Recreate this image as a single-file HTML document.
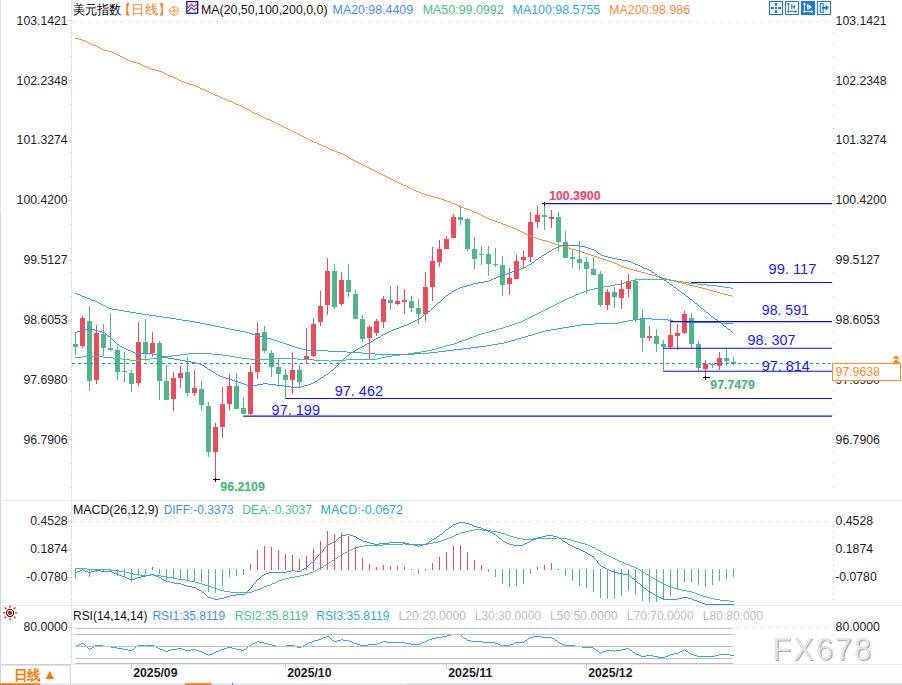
<!DOCTYPE html>
<html><head><meta charset="utf-8"><title>chart</title><style>html,body{margin:0;padding:0;background:#fff;overflow:hidden}svg text{font-family:"Liberation Sans",sans-serif}</style></head><body><svg width="902" height="685" viewBox="0 0 902 685" style="display:block"><rect width="902" height="685" fill="#fff"/><rect x="0" y="0" width="1" height="213" fill="#dde2ec"/><rect x="0" y="213" width="1" height="472" fill="#cbd3e0"/><rect x="0" y="500.0" width="902" height="1" fill="#e3eaf2"/><rect x="0" y="605.0" width="902" height="1" fill="#e3eaf2"/><rect x="0" y="664" width="902" height="1" fill="#e3eaf2"/><rect x="71" y="0" width="1" height="664" fill="#dfe7ef"/><line x1="72" y1="21.5" x2="832" y2="21.5" stroke="#e8edf3" stroke-width="1" stroke-dasharray="4 4"/><line x1="72" y1="521.5" x2="832" y2="521.5" stroke="#e8edf3" stroke-width="1" stroke-dasharray="4 4"/><line x1="72" y1="627.5" x2="832" y2="627.5" stroke="#e8edf3" stroke-width="1" stroke-dasharray="4 4"/><rect x="68.0" y="20" width="3.5" height="1" fill="#b9c2d0" opacity="0.8"/><rect x="70.0" y="32" width="1.5" height="1" fill="#b9c2d0" opacity="0.55"/><rect x="833" y="32" width="1" height="1" fill="#b9c2d0" opacity="0.9"/><rect x="70.0" y="44" width="1.5" height="1" fill="#b9c2d0" opacity="0.55"/><rect x="833" y="44" width="1" height="1" fill="#b9c2d0" opacity="0.9"/><rect x="70.0" y="56" width="1.5" height="1" fill="#b9c2d0" opacity="0.55"/><rect x="833" y="56" width="1" height="1" fill="#b9c2d0" opacity="0.9"/><rect x="70.0" y="68" width="1.5" height="1" fill="#b9c2d0" opacity="0.55"/><rect x="833" y="68" width="1" height="1" fill="#b9c2d0" opacity="0.9"/><rect x="68.0" y="80" width="3.5" height="1" fill="#b9c2d0" opacity="0.8"/><rect x="832.5" y="80" width="2.5" height="1" fill="#b9c2d0" opacity="0.8"/><rect x="70.0" y="92" width="1.5" height="1" fill="#b9c2d0" opacity="0.55"/><rect x="833" y="92" width="1" height="1" fill="#b9c2d0" opacity="0.9"/><rect x="70.0" y="104" width="1.5" height="1" fill="#b9c2d0" opacity="0.55"/><rect x="833" y="104" width="1" height="1" fill="#b9c2d0" opacity="0.9"/><rect x="70.0" y="116" width="1.5" height="1" fill="#b9c2d0" opacity="0.55"/><rect x="833" y="116" width="1" height="1" fill="#b9c2d0" opacity="0.9"/><rect x="70.0" y="128" width="1.5" height="1" fill="#b9c2d0" opacity="0.55"/><rect x="833" y="128" width="1" height="1" fill="#b9c2d0" opacity="0.9"/><rect x="68.0" y="140" width="3.5" height="1" fill="#b9c2d0" opacity="0.8"/><rect x="832.5" y="140" width="2.5" height="1" fill="#b9c2d0" opacity="0.8"/><rect x="70.0" y="152" width="1.5" height="1" fill="#b9c2d0" opacity="0.55"/><rect x="833" y="152" width="1" height="1" fill="#b9c2d0" opacity="0.9"/><rect x="70.0" y="164" width="1.5" height="1" fill="#b9c2d0" opacity="0.55"/><rect x="833" y="164" width="1" height="1" fill="#b9c2d0" opacity="0.9"/><rect x="70.0" y="176" width="1.5" height="1" fill="#b9c2d0" opacity="0.55"/><rect x="833" y="176" width="1" height="1" fill="#b9c2d0" opacity="0.9"/><rect x="70.0" y="188" width="1.5" height="1" fill="#b9c2d0" opacity="0.55"/><rect x="833" y="188" width="1" height="1" fill="#b9c2d0" opacity="0.9"/><rect x="68.0" y="200" width="3.5" height="1" fill="#b9c2d0" opacity="0.8"/><rect x="832.5" y="200" width="2.5" height="1" fill="#b9c2d0" opacity="0.8"/><rect x="70.0" y="212" width="1.5" height="1" fill="#b9c2d0" opacity="0.55"/><rect x="833" y="212" width="1" height="1" fill="#b9c2d0" opacity="0.9"/><rect x="70.0" y="224" width="1.5" height="1" fill="#b9c2d0" opacity="0.55"/><rect x="833" y="224" width="1" height="1" fill="#b9c2d0" opacity="0.9"/><rect x="70.0" y="236" width="1.5" height="1" fill="#b9c2d0" opacity="0.55"/><rect x="833" y="236" width="1" height="1" fill="#b9c2d0" opacity="0.9"/><rect x="70.0" y="248" width="1.5" height="1" fill="#b9c2d0" opacity="0.55"/><rect x="833" y="248" width="1" height="1" fill="#b9c2d0" opacity="0.9"/><rect x="68.0" y="260" width="3.5" height="1" fill="#b9c2d0" opacity="0.8"/><rect x="832.5" y="260" width="2.5" height="1" fill="#b9c2d0" opacity="0.8"/><rect x="70.0" y="272" width="1.5" height="1" fill="#b9c2d0" opacity="0.55"/><rect x="833" y="272" width="1" height="1" fill="#b9c2d0" opacity="0.9"/><rect x="70.0" y="284" width="1.5" height="1" fill="#b9c2d0" opacity="0.55"/><rect x="833" y="284" width="1" height="1" fill="#b9c2d0" opacity="0.9"/><rect x="70.0" y="296" width="1.5" height="1" fill="#b9c2d0" opacity="0.55"/><rect x="833" y="296" width="1" height="1" fill="#b9c2d0" opacity="0.9"/><rect x="70.0" y="308" width="1.5" height="1" fill="#b9c2d0" opacity="0.55"/><rect x="833" y="308" width="1" height="1" fill="#b9c2d0" opacity="0.9"/><rect x="68.0" y="320" width="3.5" height="1" fill="#b9c2d0" opacity="0.8"/><rect x="832.5" y="320" width="2.5" height="1" fill="#b9c2d0" opacity="0.8"/><rect x="70.0" y="331" width="1.5" height="1" fill="#b9c2d0" opacity="0.55"/><rect x="833" y="331" width="1" height="1" fill="#b9c2d0" opacity="0.9"/><rect x="70.0" y="343" width="1.5" height="1" fill="#b9c2d0" opacity="0.55"/><rect x="833" y="343" width="1" height="1" fill="#b9c2d0" opacity="0.9"/><rect x="70.0" y="355" width="1.5" height="1" fill="#b9c2d0" opacity="0.55"/><rect x="833" y="355" width="1" height="1" fill="#b9c2d0" opacity="0.9"/><rect x="70.0" y="367" width="1.5" height="1" fill="#b9c2d0" opacity="0.55"/><rect x="833" y="367" width="1" height="1" fill="#b9c2d0" opacity="0.9"/><rect x="68.0" y="379" width="3.5" height="1" fill="#b9c2d0" opacity="0.8"/><rect x="832.5" y="379" width="2.5" height="1" fill="#b9c2d0" opacity="0.8"/><rect x="70.0" y="391" width="1.5" height="1" fill="#b9c2d0" opacity="0.55"/><rect x="833" y="391" width="1" height="1" fill="#b9c2d0" opacity="0.9"/><rect x="70.0" y="403" width="1.5" height="1" fill="#b9c2d0" opacity="0.55"/><rect x="833" y="403" width="1" height="1" fill="#b9c2d0" opacity="0.9"/><rect x="70.0" y="415" width="1.5" height="1" fill="#b9c2d0" opacity="0.55"/><rect x="833" y="415" width="1" height="1" fill="#b9c2d0" opacity="0.9"/><rect x="70.0" y="427" width="1.5" height="1" fill="#b9c2d0" opacity="0.55"/><rect x="833" y="427" width="1" height="1" fill="#b9c2d0" opacity="0.9"/><rect x="68.0" y="439" width="3.5" height="1" fill="#b9c2d0" opacity="0.8"/><rect x="832.5" y="439" width="2.5" height="1" fill="#b9c2d0" opacity="0.8"/><rect x="70.0" y="451" width="1.5" height="1" fill="#b9c2d0" opacity="0.55"/><rect x="833" y="451" width="1" height="1" fill="#b9c2d0" opacity="0.9"/><rect x="70.0" y="463" width="1.5" height="1" fill="#b9c2d0" opacity="0.55"/><rect x="833" y="463" width="1" height="1" fill="#b9c2d0" opacity="0.9"/><rect x="70.0" y="475" width="1.5" height="1" fill="#b9c2d0" opacity="0.55"/><rect x="833" y="475" width="1" height="1" fill="#b9c2d0" opacity="0.9"/><rect x="70.0" y="487" width="1.5" height="1" fill="#b9c2d0" opacity="0.55"/><rect x="833" y="487" width="1" height="1" fill="#b9c2d0" opacity="0.9"/><rect x="68.0" y="521" width="3.5" height="1" fill="#b9c2d0" opacity="0.8"/><rect x="70.0" y="526" width="1.5" height="1" fill="#b9c2d0" opacity="0.55"/><rect x="833" y="526" width="1" height="1" fill="#b9c2d0" opacity="0.9"/><rect x="70.0" y="532" width="1.5" height="1" fill="#b9c2d0" opacity="0.55"/><rect x="833" y="532" width="1" height="1" fill="#b9c2d0" opacity="0.9"/><rect x="70.0" y="537" width="1.5" height="1" fill="#b9c2d0" opacity="0.55"/><rect x="833" y="537" width="1" height="1" fill="#b9c2d0" opacity="0.9"/><rect x="70.0" y="543" width="1.5" height="1" fill="#b9c2d0" opacity="0.55"/><rect x="833" y="543" width="1" height="1" fill="#b9c2d0" opacity="0.9"/><rect x="68.0" y="549" width="3.5" height="1" fill="#b9c2d0" opacity="0.8"/><rect x="832.5" y="549" width="2.5" height="1" fill="#b9c2d0" opacity="0.8"/><rect x="70.0" y="554" width="1.5" height="1" fill="#b9c2d0" opacity="0.55"/><rect x="833" y="554" width="1" height="1" fill="#b9c2d0" opacity="0.9"/><rect x="70.0" y="560" width="1.5" height="1" fill="#b9c2d0" opacity="0.55"/><rect x="833" y="560" width="1" height="1" fill="#b9c2d0" opacity="0.9"/><rect x="70.0" y="565" width="1.5" height="1" fill="#b9c2d0" opacity="0.55"/><rect x="833" y="565" width="1" height="1" fill="#b9c2d0" opacity="0.9"/><rect x="70.0" y="571" width="1.5" height="1" fill="#b9c2d0" opacity="0.55"/><rect x="833" y="571" width="1" height="1" fill="#b9c2d0" opacity="0.9"/><rect x="68.0" y="577" width="3.5" height="1" fill="#b9c2d0" opacity="0.8"/><rect x="832.5" y="577" width="2.5" height="1" fill="#b9c2d0" opacity="0.8"/><rect x="70.0" y="582" width="1.5" height="1" fill="#b9c2d0" opacity="0.55"/><rect x="833" y="582" width="1" height="1" fill="#b9c2d0" opacity="0.9"/><rect x="70.0" y="588" width="1.5" height="1" fill="#b9c2d0" opacity="0.55"/><rect x="833" y="588" width="1" height="1" fill="#b9c2d0" opacity="0.9"/><rect x="70.0" y="593" width="1.5" height="1" fill="#b9c2d0" opacity="0.55"/><rect x="833" y="593" width="1" height="1" fill="#b9c2d0" opacity="0.9"/><rect x="70.0" y="599" width="1.5" height="1" fill="#b9c2d0" opacity="0.55"/><rect x="833" y="599" width="1" height="1" fill="#b9c2d0" opacity="0.9"/><rect x="68.0" y="627" width="3.5" height="1" fill="#b9c2d0" opacity="0.8"/><rect x="70.0" y="634" width="1.5" height="1" fill="#b9c2d0" opacity="0.55"/><rect x="833" y="634" width="1" height="1" fill="#b9c2d0" opacity="0.9"/><rect x="70.0" y="641" width="1.5" height="1" fill="#b9c2d0" opacity="0.55"/><rect x="833" y="641" width="1" height="1" fill="#b9c2d0" opacity="0.9"/><rect x="70.0" y="649" width="1.5" height="1" fill="#b9c2d0" opacity="0.55"/><rect x="833" y="649" width="1" height="1" fill="#b9c2d0" opacity="0.9"/><rect x="70.0" y="656" width="1.5" height="1" fill="#b9c2d0" opacity="0.55"/><rect x="833" y="656" width="1" height="1" fill="#b9c2d0" opacity="0.9"/><text x="67.7" y="24.85" font-size="12.25" fill="#1c1c28" text-anchor="end" font-weight="normal" >103.1421</text><text x="835.6" y="24.85" font-size="12.25" fill="#1c1c28" text-anchor="start" font-weight="normal" >103.1421</text><text x="67.7" y="84.55" font-size="12.25" fill="#1c1c28" text-anchor="end" font-weight="normal" >102.2348</text><text x="835.6" y="84.55" font-size="12.25" fill="#1c1c28" text-anchor="start" font-weight="normal" >102.2348</text><text x="67.7" y="144.45" font-size="12.25" fill="#1c1c28" text-anchor="end" font-weight="normal" >101.3274</text><text x="835.6" y="144.45" font-size="12.25" fill="#1c1c28" text-anchor="start" font-weight="normal" >101.3274</text><text x="67.7" y="204.35" font-size="12.25" fill="#1c1c28" text-anchor="end" font-weight="normal" >100.4200</text><text x="835.6" y="204.35" font-size="12.25" fill="#1c1c28" text-anchor="start" font-weight="normal" >100.4200</text><text x="67.7" y="264.25" font-size="12.25" fill="#1c1c28" text-anchor="end" font-weight="normal" >99.5127</text><text x="835.6" y="264.25" font-size="12.25" fill="#1c1c28" text-anchor="start" font-weight="normal" >99.5127</text><text x="67.7" y="324.15000000000003" font-size="12.25" fill="#1c1c28" text-anchor="end" font-weight="normal" >98.6053</text><text x="835.6" y="324.15000000000003" font-size="12.25" fill="#1c1c28" text-anchor="start" font-weight="normal" >98.6053</text><text x="67.7" y="384.05" font-size="12.25" fill="#1c1c28" text-anchor="end" font-weight="normal" >97.6980</text><text x="835.6" y="384.05" font-size="12.25" fill="#1c1c28" text-anchor="start" font-weight="normal" >97.6980</text><text x="67.7" y="443.95000000000005" font-size="12.25" fill="#1c1c28" text-anchor="end" font-weight="normal" >96.7906</text><text x="835.6" y="443.95000000000005" font-size="12.25" fill="#1c1c28" text-anchor="start" font-weight="normal" >96.7906</text><text x="67.7" y="525.35" font-size="12.25" fill="#1c1c28" text-anchor="end" font-weight="normal" >0.4528</text><text x="835.6" y="525.35" font-size="12.25" fill="#1c1c28" text-anchor="start" font-weight="normal" >0.4528</text><text x="67.7" y="553.35" font-size="12.25" fill="#1c1c28" text-anchor="end" font-weight="normal" >0.1874</text><text x="835.6" y="553.35" font-size="12.25" fill="#1c1c28" text-anchor="start" font-weight="normal" >0.1874</text><text x="67.7" y="581.35" font-size="12.25" fill="#1c1c28" text-anchor="end" font-weight="normal" >-0.0780</text><text x="835.2" y="581.35" font-size="12.25" fill="#1c1c28" text-anchor="start" font-weight="normal" >-0.0780</text><text x="67.7" y="631.15" font-size="12.25" fill="#1c1c28" text-anchor="end" font-weight="normal" >80.0000</text><text x="835.6" y="631.15" font-size="12.25" fill="#1c1c28" text-anchor="start" font-weight="normal" >80.0000</text><g shape-rendering="crispEdges"><rect x="75" y="332" width="1" height="23" fill="#50b588"/><rect x="73" y="344" width="5" height="3" fill="#50b588"/><rect x="82" y="316" width="1" height="32" fill="#ea4c5c"/><rect x="80" y="318" width="5" height="28" fill="#ea4c5c"/><rect x="89" y="306" width="1" height="85" fill="#50b588"/><rect x="87" y="321" width="5" height="60" fill="#50b588"/><rect x="96" y="325" width="1" height="59" fill="#ea4c5c"/><rect x="94" y="333" width="5" height="47" fill="#ea4c5c"/><rect x="103" y="324" width="1" height="32" fill="#50b588"/><rect x="101" y="334" width="5" height="14" fill="#50b588"/><rect x="110" y="313" width="1" height="38" fill="#50b588"/><rect x="108" y="348" width="5" height="2" fill="#50b588"/><rect x="117" y="346" width="1" height="34" fill="#50b588"/><rect x="115" y="350" width="5" height="22" fill="#50b588"/><rect x="124" y="352" width="1" height="30" fill="#50b588"/><rect x="122" y="371" width="5" height="1" fill="#50b588"/><rect x="131" y="370" width="1" height="22" fill="#50b588"/><rect x="129" y="373" width="5" height="11" fill="#50b588"/><rect x="138" y="322" width="1" height="64" fill="#ea4c5c"/><rect x="136" y="342" width="5" height="41" fill="#ea4c5c"/><rect x="145" y="319" width="1" height="42" fill="#50b588"/><rect x="143" y="342" width="5" height="11" fill="#50b588"/><rect x="152" y="332" width="1" height="25" fill="#ea4c5c"/><rect x="150" y="343" width="5" height="10" fill="#ea4c5c"/><rect x="159" y="341" width="1" height="59" fill="#50b588"/><rect x="157" y="343" width="5" height="38" fill="#50b588"/><rect x="166" y="365" width="1" height="35" fill="#50b588"/><rect x="164" y="381" width="5" height="19" fill="#50b588"/><rect x="173" y="372" width="1" height="39" fill="#ea4c5c"/><rect x="171" y="378" width="5" height="21" fill="#ea4c5c"/><rect x="180" y="366" width="1" height="22" fill="#ea4c5c"/><rect x="178" y="373" width="5" height="5" fill="#ea4c5c"/><rect x="187" y="357" width="1" height="39" fill="#50b588"/><rect x="185" y="372" width="5" height="21" fill="#50b588"/><rect x="194" y="370" width="1" height="26" fill="#ea4c5c"/><rect x="192" y="388" width="5" height="5" fill="#ea4c5c"/><rect x="201" y="381" width="1" height="29" fill="#50b588"/><rect x="199" y="389" width="5" height="16" fill="#50b588"/><rect x="208" y="402" width="1" height="55" fill="#50b588"/><rect x="206" y="406" width="5" height="46" fill="#50b588"/><rect x="215" y="423" width="1" height="55" fill="#ea4c5c"/><rect x="213" y="427" width="5" height="25" fill="#ea4c5c"/><rect x="222" y="387" width="1" height="51" fill="#ea4c5c"/><rect x="220" y="404" width="5" height="23" fill="#ea4c5c"/><rect x="229" y="374" width="1" height="36" fill="#ea4c5c"/><rect x="227" y="386" width="5" height="18" fill="#ea4c5c"/><rect x="236" y="373" width="1" height="36" fill="#50b588"/><rect x="234" y="386" width="5" height="23" fill="#50b588"/><rect x="243" y="397" width="1" height="17" fill="#50b588"/><rect x="241" y="408" width="5" height="6" fill="#50b588"/><rect x="250" y="366" width="1" height="49" fill="#ea4c5c"/><rect x="248" y="372" width="5" height="42" fill="#ea4c5c"/><rect x="257" y="322" width="1" height="57" fill="#ea4c5c"/><rect x="255" y="333" width="5" height="39" fill="#ea4c5c"/><rect x="264" y="326" width="1" height="27" fill="#50b588"/><rect x="262" y="332" width="5" height="19" fill="#50b588"/><rect x="271" y="350" width="1" height="27" fill="#50b588"/><rect x="269" y="353" width="5" height="14" fill="#50b588"/><rect x="278" y="358" width="1" height="28" fill="#50b588"/><rect x="276" y="367" width="5" height="7" fill="#50b588"/><rect x="285" y="369" width="1" height="29" fill="#50b588"/><rect x="283" y="375" width="5" height="5" fill="#50b588"/><rect x="292" y="353" width="1" height="41" fill="#ea4c5c"/><rect x="290" y="370" width="5" height="10" fill="#ea4c5c"/><rect x="299" y="365" width="1" height="22" fill="#50b588"/><rect x="297" y="370" width="5" height="12" fill="#50b588"/><rect x="306" y="328" width="1" height="36" fill="#ea4c5c"/><rect x="304" y="356" width="5" height="3" fill="#ea4c5c"/><rect x="313" y="318" width="1" height="39" fill="#ea4c5c"/><rect x="311" y="324" width="5" height="32" fill="#ea4c5c"/><rect x="320" y="291" width="1" height="35" fill="#ea4c5c"/><rect x="318" y="306" width="5" height="16" fill="#ea4c5c"/><rect x="327" y="258" width="1" height="57" fill="#ea4c5c"/><rect x="325" y="271" width="5" height="34" fill="#ea4c5c"/><rect x="334" y="264" width="1" height="45" fill="#50b588"/><rect x="332" y="271" width="5" height="36" fill="#50b588"/><rect x="341" y="272" width="1" height="34" fill="#ea4c5c"/><rect x="339" y="280" width="5" height="24" fill="#ea4c5c"/><rect x="348" y="264" width="1" height="33" fill="#50b588"/><rect x="346" y="280" width="5" height="12" fill="#50b588"/><rect x="355" y="290" width="1" height="29" fill="#50b588"/><rect x="353" y="294" width="5" height="25" fill="#50b588"/><rect x="362" y="315" width="1" height="27" fill="#50b588"/><rect x="360" y="319" width="5" height="20" fill="#50b588"/><rect x="369" y="325" width="1" height="34" fill="#ea4c5c"/><rect x="367" y="327" width="5" height="11" fill="#ea4c5c"/><rect x="376" y="319" width="1" height="17" fill="#ea4c5c"/><rect x="374" y="321" width="5" height="12" fill="#ea4c5c"/><rect x="383" y="296" width="1" height="32" fill="#ea4c5c"/><rect x="381" y="299" width="5" height="23" fill="#ea4c5c"/><rect x="390" y="286" width="1" height="24" fill="#50b588"/><rect x="388" y="300" width="5" height="3" fill="#50b588"/><rect x="397" y="286" width="1" height="19" fill="#ea4c5c"/><rect x="395" y="301" width="5" height="3" fill="#ea4c5c"/><rect x="404" y="289" width="1" height="25" fill="#ea4c5c"/><rect x="402" y="300" width="5" height="2" fill="#ea4c5c"/><rect x="411" y="296" width="1" height="16" fill="#50b588"/><rect x="409" y="301" width="5" height="7" fill="#50b588"/><rect x="418" y="299" width="1" height="25" fill="#50b588"/><rect x="416" y="308" width="5" height="6" fill="#50b588"/><rect x="425" y="272" width="1" height="49" fill="#ea4c5c"/><rect x="423" y="287" width="5" height="27" fill="#ea4c5c"/><rect x="432" y="247" width="1" height="54" fill="#ea4c5c"/><rect x="430" y="261" width="5" height="26" fill="#ea4c5c"/><rect x="439" y="240" width="1" height="27" fill="#ea4c5c"/><rect x="437" y="249" width="5" height="13" fill="#ea4c5c"/><rect x="446" y="236" width="1" height="13" fill="#ea4c5c"/><rect x="444" y="239" width="5" height="10" fill="#ea4c5c"/><rect x="453" y="214" width="1" height="24" fill="#ea4c5c"/><rect x="451" y="217" width="5" height="21" fill="#ea4c5c"/><rect x="460" y="205" width="1" height="20" fill="#50b588"/><rect x="458" y="217" width="5" height="3" fill="#50b588"/><rect x="467" y="218" width="1" height="33" fill="#50b588"/><rect x="465" y="219" width="5" height="30" fill="#50b588"/><rect x="474" y="237" width="1" height="32" fill="#50b588"/><rect x="472" y="249" width="5" height="10" fill="#50b588"/><rect x="481" y="246" width="1" height="19" fill="#50b588"/><rect x="479" y="254" width="5" height="1" fill="#50b588"/><rect x="488" y="246" width="1" height="30" fill="#50b588"/><rect x="486" y="254" width="5" height="10" fill="#50b588"/><rect x="495" y="248" width="1" height="19" fill="#50b588"/><rect x="493" y="264" width="5" height="1" fill="#50b588"/><rect x="502" y="256" width="1" height="40" fill="#50b588"/><rect x="500" y="265" width="5" height="20" fill="#50b588"/><rect x="509" y="268" width="1" height="27" fill="#ea4c5c"/><rect x="507" y="278" width="5" height="6" fill="#ea4c5c"/><rect x="516" y="255" width="1" height="24" fill="#ea4c5c"/><rect x="514" y="261" width="5" height="18" fill="#ea4c5c"/><rect x="523" y="251" width="1" height="17" fill="#ea4c5c"/><rect x="521" y="257" width="5" height="3" fill="#ea4c5c"/><rect x="530" y="212" width="1" height="50" fill="#ea4c5c"/><rect x="528" y="222" width="5" height="35" fill="#ea4c5c"/><rect x="537" y="206" width="1" height="22" fill="#ea4c5c"/><rect x="535" y="215" width="5" height="7" fill="#ea4c5c"/><rect x="544" y="204" width="1" height="26" fill="#50b588"/><rect x="542" y="215" width="5" height="2" fill="#50b588"/><rect x="551" y="210" width="1" height="18" fill="#ea4c5c"/><rect x="549" y="217" width="5" height="2" fill="#ea4c5c"/><rect x="558" y="212" width="1" height="40" fill="#50b588"/><rect x="556" y="217" width="5" height="25" fill="#50b588"/><rect x="565" y="231" width="1" height="27" fill="#50b588"/><rect x="563" y="242" width="5" height="16" fill="#50b588"/><rect x="572" y="249" width="1" height="19" fill="#50b588"/><rect x="570" y="257" width="5" height="2" fill="#50b588"/><rect x="579" y="241" width="1" height="29" fill="#50b588"/><rect x="577" y="259" width="5" height="4" fill="#50b588"/><rect x="586" y="257" width="1" height="37" fill="#50b588"/><rect x="584" y="262" width="5" height="7" fill="#50b588"/><rect x="593" y="257" width="1" height="18" fill="#50b588"/><rect x="591" y="269" width="5" height="6" fill="#50b588"/><rect x="600" y="271" width="1" height="36" fill="#50b588"/><rect x="598" y="274" width="5" height="31" fill="#50b588"/><rect x="607" y="289" width="1" height="21" fill="#ea4c5c"/><rect x="605" y="292" width="5" height="13" fill="#ea4c5c"/><rect x="614" y="287" width="1" height="21" fill="#50b588"/><rect x="612" y="292" width="5" height="5" fill="#50b588"/><rect x="621" y="280" width="1" height="29" fill="#ea4c5c"/><rect x="619" y="289" width="5" height="9" fill="#ea4c5c"/><rect x="628" y="274" width="1" height="23" fill="#ea4c5c"/><rect x="626" y="281" width="5" height="8" fill="#ea4c5c"/><rect x="635" y="278" width="1" height="44" fill="#50b588"/><rect x="633" y="281" width="5" height="38" fill="#50b588"/><rect x="642" y="310" width="1" height="42" fill="#50b588"/><rect x="640" y="319" width="5" height="19" fill="#50b588"/><rect x="649" y="326" width="1" height="15" fill="#ea4c5c"/><rect x="647" y="336" width="5" height="2" fill="#ea4c5c"/><rect x="656" y="329" width="1" height="23" fill="#50b588"/><rect x="654" y="336" width="5" height="8" fill="#50b588"/><rect x="663" y="340" width="1" height="30" fill="#50b588"/><rect x="661" y="344" width="5" height="3" fill="#50b588"/><rect x="670" y="319" width="1" height="30" fill="#ea4c5c"/><rect x="668" y="335" width="5" height="12" fill="#ea4c5c"/><rect x="677" y="324" width="1" height="26" fill="#ea4c5c"/><rect x="675" y="333" width="5" height="3" fill="#ea4c5c"/><rect x="684" y="311" width="1" height="23" fill="#ea4c5c"/><rect x="682" y="314" width="5" height="19" fill="#ea4c5c"/><rect x="691" y="313" width="1" height="35" fill="#50b588"/><rect x="689" y="318" width="5" height="26" fill="#50b588"/><rect x="698" y="341" width="1" height="30" fill="#50b588"/><rect x="696" y="344" width="5" height="24" fill="#50b588"/><rect x="705" y="360" width="1" height="18" fill="#ea4c5c"/><rect x="703" y="364" width="5" height="5" fill="#ea4c5c"/><rect x="712" y="363" width="1" height="5" fill="#50b588"/><rect x="710" y="364" width="5" height="1" fill="#50b588"/><rect x="719" y="352" width="1" height="18" fill="#ea4c5c"/><rect x="717" y="358" width="5" height="8" fill="#ea4c5c"/><rect x="726" y="349" width="1" height="17" fill="#50b588"/><rect x="724" y="358" width="5" height="3" fill="#50b588"/><rect x="733" y="357" width="1" height="8" fill="#50b588"/><rect x="731" y="362" width="5" height="2" fill="#50b588"/></g><line x1="72" y1="363.5" x2="832" y2="363.5" stroke="#0f88ff" stroke-width="1" stroke-dasharray="3 3" shape-rendering="crispEdges"/><path d="M75 38h4v1h-4zM79 39h3v1h-3zM82 40h3v1h-3zM85 41h2v1h-2zM87 42h2v1h-2zM89 43h2v1h-2zM91 44h2v1h-2zM93 45h3v1h-3zM96 46h2v1h-2zM98 47h2v1h-2zM100 48h2v1h-2zM102 49h2v1h-2zM104 50h4v1h-4zM108 51h4v1h-4zM112 52h2v1h-2zM114 53h2v1h-2zM116 54h2v1h-2zM118 55h2v1h-2zM120 56h2v1h-2zM122 57h2v1h-2zM124 58h2v1h-2zM126 59h2v1h-2zM128 60h2v1h-2zM130 61h3v1h-3zM133 62h4v1h-4zM137 63h3v1h-3zM140 64h2v1h-2zM142 65h2v1h-2zM144 66h3v1h-3zM147 67h2v1h-2zM149 68h2v1h-2zM151 69h4v1h-4zM155 70h4v1h-4zM159 71h3v1h-3zM162 72h2v1h-2zM164 73h2v1h-2zM166 74h2v1h-2zM168 75h2v1h-2zM170 76h3v1h-3zM173 77h2v1h-2zM175 78h2v1h-2zM177 79h2v1h-2zM179 80h2v1h-2zM181 81h3v1h-3zM184 82h2v1h-2zM186 83h3v1h-3zM189 84h4v1h-4zM193 85h3v1h-3zM196 86h2v1h-2zM198 87h2v1h-2zM200 88h2v1h-2zM202 89h3v1h-3zM205 90h2v1h-2zM207 91h2v1h-2zM209 92h2v1h-2zM211 93h2v1h-2zM213 94h2v1h-2zM215 95h3v1h-3zM218 96h2v1h-2zM220 97h2v1h-2zM222 98h3v1h-3zM225 99h2v1h-2zM227 100h2v1h-2zM229 101h3v1h-3zM232 102h2v1h-2zM234 103h2v1h-2zM236 104h3v1h-3zM239 105h2v1h-2zM241 106h2v1h-2zM243 107h2v1h-2zM245 108h2v1h-2zM247 109h2v1h-2zM249 110h2v1h-2zM251 111h1v1h-1zM252 112h2v1h-2zM254 113h3v1h-3zM257 114h2v1h-2zM259 115h2v1h-2zM261 116h2v1h-2zM263 117h2v1h-2zM265 118h2v1h-2zM267 119h3v1h-3zM270 120h2v1h-2zM272 121h2v1h-2zM274 122h2v1h-2zM276 123h2v1h-2zM278 124h2v1h-2zM280 125h2v1h-2zM282 126h2v1h-2zM284 127h2v1h-2zM286 128h2v1h-2zM288 129h2v1h-2zM290 130h2v1h-2zM292 131h2v1h-2zM294 132h2v1h-2zM296 133h2v1h-2zM298 134h2v1h-2zM300 135h2v1h-2zM302 136h2v1h-2zM304 137h2v1h-2zM306 138h2v1h-2zM308 139h2v1h-2zM310 140h2v1h-2zM312 141h2v1h-2zM314 142h3v1h-3zM317 143h2v1h-2zM319 144h2v1h-2zM321 145h2v1h-2zM323 146h3v1h-3zM326 147h2v1h-2zM328 148h2v1h-2zM330 149h2v1h-2zM332 150h3v1h-3zM335 151h2v1h-2zM337 152h3v1h-3zM340 153h2v1h-2zM342 154h2v1h-2zM344 155h2v1h-2zM346 156h2v1h-2zM348 157h1v1h-1zM349 158h2v1h-2zM351 159h2v1h-2zM353 160h2v1h-2zM355 161h2v1h-2zM357 162h2v1h-2zM359 163h2v1h-2zM361 164h2v1h-2zM363 165h2v1h-2zM365 166h2v1h-2zM367 167h2v1h-2zM369 168h2v1h-2zM371 169h2v1h-2zM373 170h2v1h-2zM375 171h2v1h-2zM377 172h2v1h-2zM379 173h2v1h-2zM381 174h2v1h-2zM383 175h2v1h-2zM385 176h2v1h-2zM387 177h2v1h-2zM389 178h2v1h-2zM391 179h2v1h-2zM393 180h2v1h-2zM395 181h2v1h-2zM397 182h2v1h-2zM399 183h2v1h-2zM401 184h2v1h-2zM403 185h3v1h-3zM406 186h2v1h-2zM408 187h2v1h-2zM410 188h2v1h-2zM412 189h2v1h-2zM414 190h2v1h-2zM416 191h3v1h-3zM419 192h2v1h-2zM421 193h3v1h-3zM424 194h3v1h-3zM427 195h4v1h-4zM431 196h3v1h-3zM434 197h4v1h-4zM438 198h3v1h-3zM441 199h3v1h-3zM444 200h3v1h-3zM447 201h3v1h-3zM450 202h2v1h-2zM452 203h3v1h-3zM455 204h2v1h-2zM457 205h2v1h-2zM459 206h2v1h-2zM461 207h3v1h-3zM464 208h3v1h-3zM467 209h3v1h-3zM470 210h2v1h-2zM472 211h2v1h-2zM474 212h3v1h-3zM477 213h2v1h-2zM479 214h2v1h-2zM481 215h2v1h-2zM483 216h2v1h-2zM485 217h2v1h-2zM487 218h2v1h-2zM489 219h3v1h-3zM492 220h3v1h-3zM495 221h3v1h-3zM498 222h3v1h-3zM501 223h2v1h-2zM503 224h3v1h-3zM506 225h2v1h-2zM508 226h3v1h-3zM511 227h2v1h-2zM513 228h3v1h-3zM516 229h2v1h-2zM518 230h2v1h-2zM520 231h2v1h-2zM522 232h2v1h-2zM524 233h2v1h-2zM526 234h2v1h-2zM528 235h2v1h-2zM530 236h3v1h-3zM533 237h3v1h-3zM536 238h3v1h-3zM539 239h3v1h-3zM542 240h4v1h-4zM546 241h3v1h-3zM549 242h3v1h-3zM552 243h3v1h-3zM555 244h4v1h-4zM559 245h3v1h-3zM562 246h4v1h-4zM566 247h3v1h-3zM569 248h3v1h-3zM572 249h4v1h-4zM576 250h3v1h-3zM579 251h3v1h-3zM582 252h3v1h-3zM585 253h3v1h-3zM588 254h3v1h-3zM591 255h3v1h-3zM594 256h3v1h-3zM597 257h3v1h-3zM600 258h3v1h-3zM603 259h3v1h-3zM606 260h3v1h-3zM609 261h3v1h-3zM612 262h2v1h-2zM614 263h3v1h-3zM617 264h2v1h-2zM619 265h2v1h-2zM621 266h3v1h-3zM624 267h3v1h-3zM627 268h3v1h-3zM630 269h4v1h-4zM634 270h3v1h-3zM637 271h4v1h-4zM641 272h4v1h-4zM645 273h3v1h-3zM648 274h4v1h-4zM652 275h4v1h-4zM656 276h3v1h-3zM659 277h4v1h-4zM663 278h4v1h-4zM667 279h4v1h-4zM671 280h3v1h-3zM674 281h4v1h-4zM678 282h4v1h-4zM682 283h4v1h-4zM686 284h4v1h-4zM690 285h4v1h-4zM694 286h4v1h-4zM698 287h4v1h-4zM702 288h4v1h-4zM706 289h3v1h-3zM709 290h4v1h-4zM713 291h4v1h-4zM717 292h3v1h-3zM720 293h4v1h-4zM724 294h4v1h-4zM728 295h4v1h-4zM732 296h1v1h-1z" fill="#ff8a3c" shape-rendering="crispEdges"/><path d="M75 293h2v1h-2zM77 294h3v1h-3zM80 295h2v1h-2zM82 296h3v1h-3zM85 297h2v1h-2zM87 298h3v1h-3zM90 299h2v1h-2zM92 300h3v1h-3zM95 301h2v1h-2zM97 302h2v1h-2zM99 303h2v1h-2zM101 304h2v1h-2zM103 305h2v1h-2zM105 306h2v1h-2zM107 307h2v1h-2zM109 308h3v1h-3zM112 309h6v1h-6zM118 310h6v1h-6zM124 311h6v1h-6zM130 312h6v1h-6zM136 313h6v1h-6zM142 314h7v1h-7zM149 315h7v1h-7zM156 316h7v1h-7zM163 317h7v1h-7zM170 318h6v1h-6zM176 319h6v1h-6zM182 320h7v1h-7zM189 321h6v1h-6zM195 322h5v1h-5zM200 323h5v1h-5zM205 324h5v1h-5zM210 325h5v1h-5zM215 326h5v1h-5zM220 327h5v1h-5zM225 328h5v1h-5zM230 329h5v1h-5zM235 330h5v1h-5zM240 331h5v1h-5zM245 332h4v1h-4zM249 333h3v1h-3zM252 334h4v1h-4zM256 335h4v1h-4zM260 336h4v1h-4zM264 337h3v1h-3zM267 338h4v1h-4zM271 339h3v1h-3zM274 340h3v1h-3zM277 341h3v1h-3zM280 342h3v1h-3zM283 343h3v1h-3zM286 344h3v1h-3zM289 345h3v1h-3zM292 346h3v1h-3zM295 347h3v1h-3zM298 348h4v1h-4zM302 349h5v1h-5zM307 350h21v1h-21zM328 351h19v1h-19zM347 352h15v1h-15zM362 353h13v1h-13zM375 354h39v1h-39zM414 353h15v1h-15zM429 352h9v1h-9zM438 351h8v1h-8zM446 350h8v1h-8zM454 349h9v1h-9zM463 348h8v1h-8zM471 347h8v1h-8zM479 346h7v1h-7zM486 345h6v1h-6zM492 344h6v1h-6zM498 343h6v1h-6zM504 342h4v1h-4zM508 341h3v1h-3zM511 340h4v1h-4zM515 339h3v1h-3zM518 338h3v1h-3zM521 337h4v1h-4zM525 336h3v1h-3zM528 335h4v1h-4zM532 334h3v1h-3zM535 333h3v1h-3zM538 332h4v1h-4zM542 331h3v1h-3zM545 330h6v1h-6zM551 329h6v1h-6zM557 328h6v1h-6zM563 327h6v1h-6zM569 326h6v1h-6zM575 325h6v1h-6zM581 324h14v1h-14zM595 323h23v1h-23zM618 322h5v1h-5zM623 321h5v1h-5zM628 320h5v1h-5zM633 319h7v1h-7zM640 318h12v1h-12zM652 319h16v1h-16zM668 320h5v1h-5zM673 321h13v1h-13zM686 322h35v1h-35zM721 323h12v1h-12z" fill="#2fa8e2" shape-rendering="crispEdges"/><path d="M75 357h7v1h-7zM82 356h21v1h-21zM103 357h10v1h-10zM113 358h9v1h-9zM122 359h8v1h-8zM130 360h11v1h-11zM141 359h9v1h-9zM150 358h7v1h-7zM157 357h7v1h-7zM164 356h8v1h-8zM172 355h8v1h-8zM180 354h8v1h-8zM188 353h24v1h-24zM212 354h11v1h-11zM223 355h6v1h-6zM229 356h6v1h-6zM235 357h6v1h-6zM241 358h9v1h-9zM250 359h24v1h-24zM274 358h23v1h-23zM297 359h17v1h-17zM314 360h15v1h-15zM329 361h2v1h-2zM331 360h15v1h-15zM346 359h31v1h-31zM377 358h4v1h-4zM381 357h4v1h-4zM385 356h7v1h-7zM392 355h8v1h-8zM400 354h8v1h-8zM408 353h6v1h-6zM414 352h7v1h-7zM421 351h6v1h-6zM427 350h5v1h-5zM432 349h4v1h-4zM436 348h3v1h-3zM439 347h4v1h-4zM443 346h3v1h-3zM446 345h4v1h-4zM450 344h4v1h-4zM454 343h3v1h-3zM457 342h2v1h-2zM459 341h3v1h-3zM462 340h3v1h-3zM465 339h3v1h-3zM468 338h2v1h-2zM470 337h3v1h-3zM473 336h3v1h-3zM476 335h2v1h-2zM478 334h3v1h-3zM481 333h4v1h-4zM485 332h4v1h-4zM489 331h3v1h-3zM492 330h4v1h-4zM496 329h3v1h-3zM499 328h4v1h-4zM503 327h3v1h-3zM506 326h3v1h-3zM509 325h3v1h-3zM512 324h3v1h-3zM515 323h3v1h-3zM518 322h3v1h-3zM521 321h2v1h-2zM523 320h2v1h-2zM525 319h2v1h-2zM527 318h2v1h-2zM529 317h2v1h-2zM531 316h2v1h-2zM533 315h2v1h-2zM535 314h2v1h-2zM537 313h2v1h-2zM539 312h2v1h-2zM541 311h2v1h-2zM543 310h2v1h-2zM545 309h2v1h-2zM547 308h2v1h-2zM549 307h2v1h-2zM551 306h2v1h-2zM553 305h2v1h-2zM555 304h2v1h-2zM557 303h2v1h-2zM559 302h2v1h-2zM561 301h2v1h-2zM563 300h2v1h-2zM565 299h2v1h-2zM567 298h2v1h-2zM569 297h3v1h-3zM572 296h2v1h-2zM574 295h2v1h-2zM576 294h3v1h-3zM579 293h2v1h-2zM581 292h3v1h-3zM584 291h2v1h-2zM586 290h4v1h-4zM590 289h4v1h-4zM594 288h5v1h-5zM599 287h5v1h-5zM604 286h6v1h-6zM610 285h5v1h-5zM615 284h6v1h-6zM621 283h3v1h-3zM624 282h4v1h-4zM628 281h3v1h-3zM631 280h4v1h-4zM635 279h34v1h-34zM669 280h7v1h-7zM676 281h7v1h-7zM683 282h6v1h-6zM689 283h8v1h-8zM697 284h10v1h-10zM707 285h10v1h-10zM717 286h7v1h-7zM724 287h7v1h-7zM731 288h2v1h-2z" fill="#45c08c" shape-rendering="crispEdges"/><path d="M75 332h2v1h-2zM77 331h3v1h-3zM80 330h3v1h-3zM83 329h12v1h-12zM95 330h3v1h-3zM98 331h4v1h-4zM102 332h3v1h-3zM105 333h1v1h-1zM106 334h1v1h-1zM107 335h1v1h-1zM108 336h2v1h-2zM110 337h1v1h-1zM111 338h1v1h-1zM112 339h1v1h-1zM113 340h1v1h-1zM114 341h1v1h-1zM115 342h1v1h-1zM116 343h1v1h-1zM117 344h2v1h-2zM119 345h1v1h-1zM120 346h2v1h-2zM122 347h2v1h-2zM124 348h2v1h-2zM126 349h2v1h-2zM128 350h3v1h-3zM131 351h2v1h-2zM133 352h2v1h-2zM135 353h18v1h-18zM153 354h4v1h-4zM157 355h3v1h-3zM160 356h4v1h-4zM164 357h4v1h-4zM168 358h6v1h-6zM174 359h6v1h-6zM180 360h5v1h-5zM185 361h6v1h-6zM191 362h5v1h-5zM196 363h4v1h-4zM200 364h2v1h-2zM202 365h2v1h-2zM204 366h1v1h-1zM205 367h2v1h-2zM207 368h1v1h-1zM208 369h2v1h-2zM210 370h2v1h-2zM212 371h1v1h-1zM213 372h2v1h-2zM215 373h1v1h-1zM216 374h2v1h-2zM218 375h2v1h-2zM220 376h3v1h-3zM223 377h3v1h-3zM226 378h3v1h-3zM229 379h3v1h-3zM232 380h3v1h-3zM235 381h3v1h-3zM238 382h3v1h-3zM241 383h3v1h-3zM244 384h3v1h-3zM247 385h2v1h-2zM249 386h2v1h-2zM251 385h6v1h-6zM257 384h6v1h-6zM263 383h5v1h-5zM268 384h8v1h-8zM276 385h8v1h-8zM284 386h7v1h-7zM291 387h10v1h-10zM301 386h3v1h-3zM304 385h4v1h-4zM308 384h3v1h-3zM311 383h2v1h-2zM313 382h2v1h-2zM315 381h2v1h-2zM317 380h1v1h-1zM318 379h2v1h-2zM320 378h1v1h-1zM321 377h2v1h-2zM323 376h1v1h-1zM324 375h2v1h-2zM326 374h2v1h-2zM328 373h1v1h-1zM329 372h1v1h-1zM330 371h1v1h-1zM331 370h2v1h-2zM333 369h1v1h-1zM334 368h1v1h-1zM335 367h1v1h-1zM336 366h1v1h-1zM337 365h1v1h-1zM338 364h1v1h-1zM339 363h1v1h-1zM340 362h1v1h-1zM341 361h1v1h-1zM342 360h1v1h-1zM343 359h1v1h-1zM344 358h1v1h-1zM345 357h1v1h-1zM346 356h1v1h-1zM347 355h2v1h-2zM349 354h1v1h-1zM350 353h1v1h-1zM351 352h2v1h-2zM353 351h2v1h-2zM355 350h1v1h-1zM356 349h2v1h-2zM358 348h2v1h-2zM360 347h2v1h-2zM362 346h2v1h-2zM364 345h1v1h-1zM365 344h2v1h-2zM367 343h2v1h-2zM369 342h2v1h-2zM371 341h2v1h-2zM373 340h1v1h-1zM374 339h2v1h-2zM376 338h2v1h-2zM378 337h2v1h-2zM380 336h1v1h-1zM381 335h2v1h-2zM383 334h2v1h-2zM385 333h2v1h-2zM387 332h2v1h-2zM389 331h2v1h-2zM391 330h2v1h-2zM393 329h3v1h-3zM396 328h3v1h-3zM399 327h2v1h-2zM401 326h3v1h-3zM404 325h3v1h-3zM407 324h2v1h-2zM409 323h2v1h-2zM411 322h2v1h-2zM413 321h2v1h-2zM415 320h2v1h-2zM417 319h2v1h-2zM419 318h2v1h-2zM421 317h1v1h-1zM422 316h1v1h-1zM423 315h1v1h-1zM424 314h2v1h-2zM426 313h1v1h-1zM427 312h1v1h-1zM428 311h2v1h-2zM430 310h1v1h-1zM431 309h1v1h-1zM432 308h1v1h-1zM433 307h1v1h-1zM434 306h1v1h-1zM435 305h1v1h-1zM436 304h1v1h-1zM437 303h1v1h-1zM438 302h2v1h-2zM440 301h1v1h-1zM441 300h1v1h-1zM442 299h1v1h-1zM443 298h1v1h-1zM444 297h1v1h-1zM445 296h1v1h-1zM446 295h2v1h-2zM448 294h1v1h-1zM449 293h2v1h-2zM451 292h1v1h-1zM452 291h2v1h-2zM454 290h2v1h-2zM456 289h2v1h-2zM458 288h2v1h-2zM460 287h3v1h-3zM463 286h4v1h-4zM467 285h3v1h-3zM470 284h3v1h-3zM473 283h5v1h-5zM478 282h6v1h-6zM484 281h5v1h-5zM489 280h2v1h-2zM491 279h2v1h-2zM493 278h3v1h-3zM496 277h2v1h-2zM498 276h3v1h-3zM501 275h3v1h-3zM504 274h3v1h-3zM507 273h2v1h-2zM509 272h3v1h-3zM512 271h2v1h-2zM514 270h3v1h-3zM517 269h4v1h-4zM521 268h3v1h-3zM524 267h2v1h-2zM526 266h1v1h-1zM527 265h2v1h-2zM529 264h2v1h-2zM531 263h1v1h-1zM532 262h2v1h-2zM534 261h1v1h-1zM535 260h1v1h-1zM536 259h2v1h-2zM538 258h1v1h-1zM539 257h2v1h-2zM541 256h1v1h-1zM542 255h2v1h-2zM544 254h2v1h-2zM546 253h1v1h-1zM547 252h2v1h-2zM549 251h2v1h-2zM551 250h1v1h-1zM552 249h2v1h-2zM554 248h2v1h-2zM556 247h2v1h-2zM558 246h3v1h-3zM561 245h19v1h-19zM580 246h5v1h-5zM585 247h3v1h-3zM588 248h3v1h-3zM591 249h3v1h-3zM594 250h2v1h-2zM596 251h1v1h-1zM597 252h1v1h-1zM598 253h2v1h-2zM600 254h1v1h-1zM601 255h3v1h-3zM604 256h4v1h-4zM608 257h4v1h-4zM612 258h5v1h-5zM617 259h5v1h-5zM622 260h6v1h-6zM628 261h3v1h-3zM631 262h2v1h-2zM633 263h2v1h-2zM635 264h3v1h-3zM638 265h2v1h-2zM640 266h2v1h-2zM642 267h2v1h-2zM644 268h3v1h-3zM647 269h2v1h-2zM649 270h2v1h-2zM651 271h1v1h-1zM652 272h2v1h-2zM654 273h1v1h-1zM655 274h2v1h-2zM657 275h1v1h-1zM658 276h2v1h-2zM660 277h1v1h-1zM661 278h2v1h-2zM663 279h1v1h-1zM664 280h2v1h-2zM666 281h1v1h-1zM667 282h2v1h-2zM669 283h1v1h-1zM670 284h2v1h-2zM672 285h1v1h-1zM673 286h1v1h-1zM674 287h2v1h-2zM676 288h1v1h-1zM677 289h1v1h-1zM678 290h2v1h-2zM680 291h1v1h-1zM681 292h1v1h-1zM682 293h2v1h-2zM684 294h1v1h-1zM685 295h1v1h-1zM686 296h2v1h-2zM688 297h1v1h-1zM689 298h1v1h-1zM690 299h2v1h-2zM692 300h1v1h-1zM693 301h1v1h-1zM694 302h1v1h-1zM695 303h2v1h-2zM697 304h1v1h-1zM698 305h1v1h-1zM699 306h1v1h-1zM700 307h1v1h-1zM701 308h2v1h-2zM703 309h1v1h-1zM704 310h1v1h-1zM705 311h1v1h-1zM706 312h2v1h-2zM708 313h1v1h-1zM709 314h1v1h-1zM710 315h1v1h-1zM711 316h2v1h-2zM713 317h1v1h-1zM714 318h1v1h-1zM715 319h2v1h-2zM717 320h1v1h-1zM718 321h1v1h-1zM719 322h2v1h-2zM721 323h1v1h-1zM722 324h1v1h-1zM723 325h1v1h-1zM724 326h2v1h-2zM726 327h1v1h-1zM727 328h1v1h-1zM728 329h2v1h-2zM730 330h1v1h-1zM731 331h1v1h-1zM732 332h1v1h-1z" fill="#3f8ef5" shape-rendering="crispEdges"/><path d="M212.5 479.5H219.5M215.5 477.5V481.5" stroke="#000" stroke-width="1" shape-rendering="crispEdges"/><path d="M541.5 203.5H548.5M544.5 201.5V205.5" stroke="#000" stroke-width="1" shape-rendering="crispEdges"/><path d="M702.5 377.5H709.5M705.5 375.5V379.5" stroke="#000" stroke-width="1" shape-rendering="crispEdges"/><line x1="544.5" y1="203.6" x2="832" y2="203.6" stroke="#0a0aff" stroke-width="1.12"/><line x1="691" y1="282.5" x2="832" y2="282.5" stroke="#0a0aff" stroke-width="1.12"/><line x1="670.2" y1="321.6" x2="832" y2="321.6" stroke="#0a0aff" stroke-width="1.12"/><line x1="663" y1="348.3" x2="832" y2="348.3" stroke="#0a0aff" stroke-width="1.12"/><line x1="663" y1="371.3" x2="832" y2="371.3" stroke="#0a0aff" stroke-width="1.12"/><line x1="285.2" y1="398.5" x2="832" y2="398.5" stroke="#0a0aff" stroke-width="1.12"/><line x1="243.2" y1="416.1" x2="832" y2="416.1" stroke="#0a0aff" stroke-width="1.12"/><text x="768.5" y="274.0" font-size="15.5" fill="#1a1aff" textLength="48.0" lengthAdjust="spacingAndGlyphs">99. 117</text><text x="761.8" y="314.9" font-size="15.5" fill="#1a1aff" textLength="47.0" lengthAdjust="spacingAndGlyphs">98. 591</text><text x="747.5" y="344.8" font-size="15.5" fill="#1a1aff" textLength="48.0" lengthAdjust="spacingAndGlyphs">98. 307</text><text x="761.8" y="370.9" font-size="15.5" fill="#1a1aff" textLength="48.0" lengthAdjust="spacingAndGlyphs">97. 814</text><text x="334.7" y="396.4" font-size="15.5" fill="#1a1aff" textLength="48.3" lengthAdjust="spacingAndGlyphs">97. 462</text><text x="271.6" y="415.3" font-size="15.5" fill="#1a1aff" textLength="48.4" lengthAdjust="spacingAndGlyphs">97. 199</text><text x="220.3" y="490.9" font-size="12.3" font-weight="bold" fill="#3fb58c" stroke="#f2e08a" stroke-width="0.9" stroke-opacity="0.5" paint-order="stroke">96.2109</text><text x="710.3" y="388.9" font-size="12.3" font-weight="bold" fill="#3fb58c" stroke="#f2e08a" stroke-width="0.9" stroke-opacity="0.5" paint-order="stroke">97.7479</text><text x="549.2" y="200.1" font-size="12.3" font-weight="bold" fill="#e8476a" stroke="#ffc8d8" stroke-width="0.9" stroke-opacity="0.5" paint-order="stroke">100.3900</text><rect x="832.5" y="363.5" width="68" height="17" fill="#fff" stroke="#ff8a1f" stroke-width="1"/><text x="835.6" y="375.7" font-size="12.25" fill="#ff8a1f" text-anchor="start" font-weight="normal" >97.9638</text><path d="M896.2 355.2 l3.9 3.6 h-7.8z M896.2 359 l4.2 4.3 h-8.4z" fill="#ff8a1f"/><g shape-rendering="crispEdges"><rect x="75" y="569" width="1" height="10" fill="#50b588"/><rect x="82" y="569" width="1" height="1" fill="#50b588"/><rect x="89" y="569" width="1" height="8" fill="#50b588"/><rect x="96" y="569" width="1" height="3" fill="#50b588"/><rect x="103" y="569" width="1" height="3" fill="#50b588"/><rect x="110" y="569" width="1" height="3" fill="#50b588"/><rect x="117" y="569" width="1" height="7" fill="#50b588"/><rect x="124" y="569" width="1" height="8" fill="#50b588"/><rect x="131" y="569" width="1" height="13" fill="#50b588"/><rect x="138" y="569" width="1" height="7" fill="#50b588"/><rect x="145" y="569" width="1" height="5" fill="#50b588"/><rect x="152" y="567" width="1" height="3" fill="#ea4c5c"/><rect x="159" y="569" width="1" height="5" fill="#50b588"/><rect x="166" y="569" width="1" height="11" fill="#50b588"/><rect x="173" y="569" width="1" height="9" fill="#50b588"/><rect x="180" y="569" width="1" height="11" fill="#50b588"/><rect x="187" y="569" width="1" height="11" fill="#50b588"/><rect x="194" y="569" width="1" height="12" fill="#50b588"/><rect x="201" y="569" width="1" height="13" fill="#50b588"/><rect x="208" y="569" width="1" height="23" fill="#50b588"/><rect x="215" y="569" width="1" height="24" fill="#50b588"/><rect x="222" y="569" width="1" height="17" fill="#50b588"/><rect x="229" y="569" width="1" height="8" fill="#50b588"/><rect x="236" y="569" width="1" height="7" fill="#50b588"/><rect x="243" y="569" width="1" height="6" fill="#50b588"/><rect x="250" y="564" width="1" height="6" fill="#ea4c5c"/><rect x="257" y="550" width="1" height="20" fill="#ea4c5c"/><rect x="264" y="546" width="1" height="24" fill="#ea4c5c"/><rect x="271" y="547" width="1" height="23" fill="#ea4c5c"/><rect x="278" y="550" width="1" height="20" fill="#ea4c5c"/><rect x="285" y="554" width="1" height="16" fill="#ea4c5c"/><rect x="292" y="555" width="1" height="15" fill="#ea4c5c"/><rect x="299" y="559" width="1" height="11" fill="#ea4c5c"/><rect x="306" y="556" width="1" height="14" fill="#ea4c5c"/><rect x="313" y="549" width="1" height="21" fill="#ea4c5c"/><rect x="320" y="541" width="1" height="29" fill="#ea4c5c"/><rect x="327" y="531" width="1" height="39" fill="#ea4c5c"/><rect x="334" y="534" width="1" height="36" fill="#ea4c5c"/><rect x="341" y="533" width="1" height="37" fill="#ea4c5c"/><rect x="348" y="536" width="1" height="34" fill="#ea4c5c"/><rect x="355" y="546" width="1" height="24" fill="#ea4c5c"/><rect x="362" y="558" width="1" height="12" fill="#ea4c5c"/><rect x="369" y="564" width="1" height="6" fill="#ea4c5c"/><rect x="376" y="567" width="1" height="3" fill="#ea4c5c"/><rect x="383" y="565" width="1" height="5" fill="#ea4c5c"/><rect x="390" y="566" width="1" height="4" fill="#ea4c5c"/><rect x="397" y="566" width="1" height="4" fill="#ea4c5c"/><rect x="404" y="567" width="1" height="3" fill="#ea4c5c"/><rect x="411" y="569" width="1" height="1" fill="#ea4c5c"/><rect x="418" y="569" width="1" height="5" fill="#50b588"/><rect x="425" y="569" width="1" height="2" fill="#50b588"/><rect x="432" y="563" width="1" height="7" fill="#ea4c5c"/><rect x="439" y="557" width="1" height="13" fill="#ea4c5c"/><rect x="446" y="552" width="1" height="18" fill="#ea4c5c"/><rect x="453" y="546" width="1" height="24" fill="#ea4c5c"/><rect x="460" y="545" width="1" height="25" fill="#ea4c5c"/><rect x="467" y="552" width="1" height="18" fill="#ea4c5c"/><rect x="474" y="560" width="1" height="10" fill="#ea4c5c"/><rect x="481" y="565" width="1" height="5" fill="#ea4c5c"/><rect x="488" y="569" width="1" height="3" fill="#50b588"/><rect x="495" y="569" width="1" height="8" fill="#50b588"/><rect x="502" y="569" width="1" height="15" fill="#50b588"/><rect x="509" y="569" width="1" height="18" fill="#50b588"/><rect x="516" y="569" width="1" height="17" fill="#50b588"/><rect x="523" y="569" width="1" height="15" fill="#50b588"/><rect x="530" y="569" width="1" height="5" fill="#50b588"/><rect x="537" y="567" width="1" height="3" fill="#ea4c5c"/><rect x="544" y="565" width="1" height="5" fill="#ea4c5c"/><rect x="551" y="563" width="1" height="7" fill="#ea4c5c"/><rect x="558" y="569" width="1" height="1" fill="#ea4c5c"/><rect x="565" y="569" width="1" height="7" fill="#50b588"/><rect x="572" y="569" width="1" height="12" fill="#50b588"/><rect x="579" y="569" width="1" height="17" fill="#50b588"/><rect x="586" y="569" width="1" height="19" fill="#50b588"/><rect x="593" y="569" width="1" height="23" fill="#50b588"/><rect x="600" y="569" width="1" height="29" fill="#50b588"/><rect x="607" y="569" width="1" height="30" fill="#50b588"/><rect x="614" y="569" width="1" height="30" fill="#50b588"/><rect x="621" y="569" width="1" height="27" fill="#50b588"/><rect x="628" y="569" width="1" height="22" fill="#50b588"/><rect x="635" y="569" width="1" height="26" fill="#50b588"/><rect x="642" y="569" width="1" height="32" fill="#50b588"/><rect x="649" y="569" width="1" height="33" fill="#50b588"/><rect x="656" y="569" width="1" height="33" fill="#50b588"/><rect x="663" y="569" width="1" height="30" fill="#50b588"/><rect x="670" y="569" width="1" height="27" fill="#50b588"/><rect x="677" y="569" width="1" height="21" fill="#50b588"/><rect x="684" y="569" width="1" height="13" fill="#50b588"/><rect x="691" y="569" width="1" height="13" fill="#50b588"/><rect x="698" y="569" width="1" height="16" fill="#50b588"/><rect x="705" y="569" width="1" height="18" fill="#50b588"/><rect x="712" y="569" width="1" height="16" fill="#50b588"/><rect x="719" y="569" width="1" height="12" fill="#50b588"/><rect x="726" y="569" width="1" height="10" fill="#50b588"/><rect x="733" y="569" width="1" height="8" fill="#50b588"/></g><path d="M75 568h12v1h-12zM87 569h24v1h-24zM111 570h8v1h-8zM119 571h6v1h-6zM125 572h4v1h-4zM129 573h4v1h-4zM133 574h7v1h-7zM140 575h11v1h-11zM151 574h2v1h-2zM153 575h8v1h-8zM161 576h6v1h-6zM167 577h6v1h-6zM173 578h5v1h-5zM178 579h7v1h-7zM185 580h5v1h-5zM190 581h5v1h-5zM195 582h4v1h-4zM199 583h3v1h-3zM202 584h3v1h-3zM205 585h3v1h-3zM208 586h3v1h-3zM211 587h3v1h-3zM214 588h3v1h-3zM217 589h3v1h-3zM220 590h4v1h-4zM224 591h6v1h-6zM230 592h22v1h-22zM252 591h2v1h-2zM254 590h3v1h-3zM257 589h3v1h-3zM260 588h2v1h-2zM262 587h2v1h-2zM264 586h3v1h-3zM267 585h3v1h-3zM270 584h2v1h-2zM272 583h3v1h-3zM275 582h2v1h-2zM277 581h2v1h-2zM279 580h3v1h-3zM282 579h3v1h-3zM285 578h4v1h-4zM289 577h6v1h-6zM295 576h5v1h-5zM300 575h4v1h-4zM304 574h4v1h-4zM308 573h2v1h-2zM310 572h3v1h-3zM313 571h2v1h-2zM315 570h2v1h-2zM317 569h2v1h-2zM319 568h2v1h-2zM321 567h2v1h-2zM323 566h1v1h-1zM324 565h2v1h-2zM326 564h2v1h-2zM328 563h1v1h-1zM329 562h2v1h-2zM331 561h1v1h-1zM332 560h2v1h-2zM334 559h1v1h-1zM335 558h2v1h-2zM337 557h1v1h-1zM338 556h2v1h-2zM340 555h1v1h-1zM341 554h2v1h-2zM343 553h2v1h-2zM345 552h2v1h-2zM347 551h2v1h-2zM349 550h2v1h-2zM351 549h2v1h-2zM353 548h2v1h-2zM355 547h4v1h-4zM359 546h5v1h-5zM364 545h19v1h-19zM383 544h20v1h-20zM403 543h2v1h-2zM405 544h23v1h-23zM428 543h5v1h-5zM433 542h5v1h-5zM438 541h3v1h-3zM441 540h3v1h-3zM444 539h3v1h-3zM447 538h2v1h-2zM449 537h3v1h-3zM452 536h2v1h-2zM454 535h2v1h-2zM456 534h3v1h-3zM459 533h2v1h-2zM461 532h4v1h-4zM465 531h4v1h-4zM469 530h5v1h-5zM474 529h8v1h-8zM482 530h9v1h-9zM491 531h6v1h-6zM497 532h4v1h-4zM501 533h4v1h-4zM505 534h2v1h-2zM507 535h3v1h-3zM510 536h4v1h-4zM514 537h3v1h-3zM517 538h5v1h-5zM522 539h11v1h-11zM533 538h24v1h-24zM557 537h2v1h-2zM559 538h8v1h-8zM567 539h4v1h-4zM571 540h3v1h-3zM574 541h4v1h-4zM578 542h3v1h-3zM581 543h4v1h-4zM585 544h3v1h-3zM588 545h2v1h-2zM590 546h2v1h-2zM592 547h3v1h-3zM595 548h1v1h-1zM596 549h2v1h-2zM598 550h2v1h-2zM600 551h2v1h-2zM602 552h1v1h-1zM603 553h2v1h-2zM605 554h2v1h-2zM607 555h2v1h-2zM609 556h2v1h-2zM611 557h2v1h-2zM613 558h2v1h-2zM615 559h2v1h-2zM617 560h2v1h-2zM619 561h3v1h-3zM622 562h2v1h-2zM624 563h2v1h-2zM626 564h3v1h-3zM629 565h2v1h-2zM631 566h3v1h-3zM634 567h2v1h-2zM636 568h2v1h-2zM638 569h2v1h-2zM640 570h1v1h-1zM641 571h2v1h-2zM643 572h2v1h-2zM645 573h1v1h-1zM646 574h2v1h-2zM648 575h1v1h-1zM649 576h2v1h-2zM651 577h2v1h-2zM653 578h2v1h-2zM655 579h2v1h-2zM657 580h1v1h-1zM658 581h2v1h-2zM660 582h2v1h-2zM662 583h1v1h-1zM663 584h3v1h-3zM666 585h2v1h-2zM668 586h3v1h-3zM671 587h3v1h-3zM674 588h3v1h-3zM677 589h5v1h-5zM682 590h5v1h-5zM687 591h5v1h-5zM692 592h3v1h-3zM695 593h2v1h-2zM697 594h3v1h-3zM700 595h3v1h-3zM703 596h4v1h-4zM707 597h3v1h-3zM710 598h4v1h-4zM714 599h6v1h-6zM720 600h9v1h-9zM729 601h5v1h-5z" fill="#45c08c" shape-rendering="crispEdges"/><path d="M75 572h2v1h-2zM77 571h3v1h-3zM80 570h2v1h-2zM82 569h1v1h-1zM83 570h2v1h-2zM85 571h3v1h-3zM88 572h3v1h-3zM91 571h4v1h-4zM95 570h6v1h-6zM101 571h11v1h-11zM112 572h2v1h-2zM114 573h3v1h-3zM117 574h2v1h-2zM119 575h3v1h-3zM122 576h3v1h-3zM125 577h2v1h-2zM127 578h2v1h-2zM129 579h2v1h-2zM131 580h1v1h-1zM132 579h3v1h-3zM135 578h2v1h-2zM137 577h4v1h-4zM141 576h5v1h-5zM146 575h4v1h-4zM150 574h4v1h-4zM154 575h2v1h-2zM156 576h3v1h-3zM159 577h2v1h-2zM161 578h1v1h-1zM162 579h2v1h-2zM164 580h2v1h-2zM166 581h4v1h-4zM170 582h4v1h-4zM174 583h7v1h-7zM181 584h3v1h-3zM184 585h3v1h-3zM187 586h5v1h-5zM192 587h4v1h-4zM196 588h1v1h-1zM197 589h2v1h-2zM199 590h2v1h-2zM201 591h1v1h-1zM202 592h2v1h-2zM204 593h1v1h-1zM205 594h1v1h-1zM206 595h1v1h-1zM207 596h1v1h-1zM208 597h3v1h-3zM211 598h3v1h-3zM214 599h5v1h-5zM219 598h5v1h-5zM224 597h3v1h-3zM227 596h3v1h-3zM230 595h6v1h-6zM236 594h9v1h-9zM245 593h1v1h-1zM246 592h1v1h-1zM247 591h1v1h-1zM248 590h1v1h-1zM249 589h1v1h-1zM250 588h1v1h-1zM251 587h1v1h-1zM252 585h1v2h-1zM253 584h1v1h-1zM254 583h1v1h-1zM255 582h1v1h-1zM256 580h1v2h-1zM257 579h2v1h-2zM259 578h1v1h-1zM260 577h1v1h-1zM261 576h1v1h-1zM262 575h2v1h-2zM264 574h2v1h-2zM266 573h3v1h-3zM269 572h18v1h-18zM287 571h4v1h-4zM291 570h4v1h-4zM295 571h6v1h-6zM301 570h1v1h-1zM302 569h2v1h-2zM304 568h2v1h-2zM306 567h1v1h-1zM307 566h1v1h-1zM308 565h1v1h-1zM309 564h1v1h-1zM310 563h1v1h-1zM311 562h2v1h-2zM313 561h1v1h-1zM314 560h1v1h-1zM315 558h1v2h-1zM316 557h1v1h-1zM317 556h1v1h-1zM318 555h1v1h-1zM319 554h1v1h-1zM320 553h1v1h-1zM321 552h1v1h-1zM322 551h1v1h-1zM323 549h1v2h-1zM324 548h1v1h-1zM325 547h1v1h-1zM326 546h1v1h-1zM327 545h1v1h-1zM328 544h2v1h-2zM330 543h2v1h-2zM332 542h2v1h-2zM334 541h2v1h-2zM336 540h1v1h-1zM337 539h1v1h-1zM338 538h1v1h-1zM339 537h2v1h-2zM341 536h1v1h-1zM342 535h4v1h-4zM346 534h4v1h-4zM350 535h3v1h-3zM353 536h3v1h-3zM356 537h1v1h-1zM357 538h2v1h-2zM359 539h2v1h-2zM361 540h2v1h-2zM363 541h4v1h-4zM367 542h3v1h-3zM370 543h4v1h-4zM374 544h5v1h-5zM379 543h10v1h-10zM389 542h16v1h-16zM405 543h4v1h-4zM409 544h5v1h-5zM414 545h4v1h-4zM418 546h1v1h-1zM419 545h4v1h-4zM423 544h3v1h-3zM426 543h2v1h-2zM428 542h1v1h-1zM429 541h2v1h-2zM431 540h1v1h-1zM432 539h2v1h-2zM434 538h2v1h-2zM436 537h1v1h-1zM437 536h2v1h-2zM439 535h1v1h-1zM440 534h2v1h-2zM442 533h1v1h-1zM443 532h1v1h-1zM444 531h1v1h-1zM445 530h1v1h-1zM446 529h2v1h-2zM448 528h1v1h-1zM449 527h2v1h-2zM451 526h1v1h-1zM452 525h1v1h-1zM453 524h3v1h-3zM456 523h3v1h-3zM459 522h6v1h-6zM465 523h4v1h-4zM469 524h3v1h-3zM472 525h2v1h-2zM474 526h3v1h-3zM477 527h4v1h-4zM481 528h2v1h-2zM483 529h3v1h-3zM486 530h2v1h-2zM488 531h2v1h-2zM490 532h2v1h-2zM492 533h2v1h-2zM494 534h2v1h-2zM496 535h1v1h-1zM497 536h1v1h-1zM498 537h1v1h-1zM499 538h2v1h-2zM501 539h1v1h-1zM502 540h1v1h-1zM503 541h2v1h-2zM505 542h2v1h-2zM507 543h2v1h-2zM509 544h4v1h-4zM513 545h10v1h-10zM523 544h2v1h-2zM525 543h2v1h-2zM527 542h2v1h-2zM529 541h2v1h-2zM531 540h2v1h-2zM533 539h3v1h-3zM536 538h2v1h-2zM538 537h4v1h-4zM542 536h4v1h-4zM546 535h7v1h-7zM553 536h4v1h-4zM557 537h2v1h-2zM559 538h2v1h-2zM561 539h1v1h-1zM562 540h1v1h-1zM563 541h2v1h-2zM565 542h2v1h-2zM567 543h1v1h-1zM568 544h2v1h-2zM570 545h2v1h-2zM572 546h2v1h-2zM574 547h2v1h-2zM576 548h3v1h-3zM579 549h2v1h-2zM581 550h2v1h-2zM583 551h2v1h-2zM585 552h2v1h-2zM587 553h1v1h-1zM588 554h2v1h-2zM590 555h2v1h-2zM592 556h1v1h-1zM593 556h1v2h-1zM594 558h1v1h-1zM595 559h1v1h-1zM596 560h1v1h-1zM597 561h1v2h-1zM598 563h1v1h-1zM599 564h1v1h-1zM600 565h1v1h-1zM601 566h2v1h-2zM603 567h2v1h-2zM605 568h2v1h-2zM607 569h2v1h-2zM609 570h2v1h-2zM611 571h3v1h-3zM614 572h4v1h-4zM618 573h5v1h-5zM623 574h6v1h-6zM629 575h1v1h-1zM630 576h1v1h-1zM631 577h1v1h-1zM632 578h2v1h-2zM634 579h1v1h-1zM635 580h1v1h-1zM636 581h1v1h-1zM637 582h1v1h-1zM638 583h2v1h-2zM640 584h1v1h-1zM641 585h1v1h-1zM642 586h1v1h-1zM643 587h1v1h-1zM644 588h2v1h-2zM646 589h1v1h-1zM647 590h1v1h-1zM648 591h2v1h-2zM650 592h2v1h-2zM652 593h1v1h-1zM653 594h2v1h-2zM655 595h2v1h-2zM657 596h2v1h-2zM659 597h2v1h-2zM661 598h2v1h-2zM663 599h15v1h-15zM678 598h4v1h-4zM682 597h6v1h-6zM688 598h4v1h-4zM692 599h2v1h-2zM694 600h3v1h-3zM697 601h2v1h-2zM699 602h3v1h-3zM702 603h3v1h-3zM705 604h29v1h-29z" fill="#3f8ef5" shape-rendering="crispEdges"/><path d="M75 646h2v1h-2zM77 645h2v1h-2zM79 644h2v1h-2zM81 643h3v1h-3zM84 644h1v1h-1zM85 645h1v1h-1zM86 646h1v1h-1zM87 647h1v1h-1zM88 648h1v1h-1zM89 649h1v1h-1zM90 648h2v1h-2zM92 647h2v1h-2zM94 646h1v1h-1zM95 645h8v1h-8zM103 646h8v1h-8zM111 647h6v1h-6zM117 648h6v1h-6zM123 649h5v1h-5zM128 650h4v1h-4zM132 649h2v1h-2zM134 648h1v1h-1zM135 647h1v1h-1zM136 646h2v1h-2zM138 645h7v1h-7zM145 646h1v1h-1zM146 645h8v1h-8zM154 646h2v1h-2zM156 647h2v1h-2zM158 648h2v1h-2zM160 649h3v1h-3zM163 650h2v1h-2zM165 651h3v1h-3zM168 650h3v1h-3zM171 649h6v1h-6zM177 648h5v1h-5zM182 649h3v1h-3zM185 650h6v1h-6zM191 649h5v1h-5zM196 650h3v1h-3zM199 651h3v1h-3zM202 652h2v1h-2zM204 653h2v1h-2zM206 654h2v1h-2zM208 655h1v1h-1zM209 654h3v1h-3zM212 653h2v1h-2zM214 652h2v1h-2zM216 651h3v1h-3zM219 650h2v1h-2zM221 649h3v1h-3zM224 648h3v1h-3zM227 647h5v1h-5zM232 648h4v1h-4zM236 649h5v1h-5zM241 650h3v1h-3zM244 649h2v1h-2zM246 648h1v1h-1zM247 647h1v1h-1zM248 646h2v1h-2zM250 645h1v1h-1zM251 644h2v1h-2zM253 643h2v1h-2zM255 642h2v1h-2zM257 641h2v1h-2zM259 642h5v1h-5zM264 643h4v1h-4zM268 644h4v1h-4zM272 645h4v1h-4zM276 646h10v1h-10zM286 645h8v1h-8zM294 646h3v1h-3zM297 647h4v1h-4zM301 646h2v1h-2zM303 645h2v1h-2zM305 644h2v1h-2zM307 643h2v1h-2zM309 642h3v1h-3zM312 641h2v1h-2zM314 640h4v1h-4zM318 639h3v1h-3zM321 638h2v1h-2zM323 637h3v1h-3zM326 636h3v1h-3zM329 637h1v1h-1zM330 638h1v1h-1zM331 639h1v1h-1zM332 640h2v1h-2zM334 641h3v1h-3zM337 640h4v1h-4zM341 639h2v1h-2zM343 640h6v1h-6zM349 641h3v1h-3zM352 642h2v1h-2zM354 643h3v1h-3zM357 644h3v1h-3zM360 645h8v1h-8zM368 644h9v1h-9zM377 643h3v1h-3zM380 642h3v1h-3zM383 641h4v1h-4zM387 642h18v1h-18zM405 643h6v1h-6zM411 644h9v1h-9zM420 643h2v1h-2zM422 642h3v1h-3zM425 641h2v1h-2zM427 640h2v1h-2zM429 639h3v1h-3zM432 638h4v1h-4zM436 637h6v1h-6zM442 636h5v1h-5zM447 635h4v1h-4zM451 634h10v1h-10zM461 635h1v1h-1zM462 636h1v1h-1zM463 637h1v1h-1zM464 638h2v1h-2zM466 639h1v1h-1zM467 640h4v1h-4zM471 641h12v1h-12zM483 642h12v1h-12zM495 643h3v1h-3zM498 644h2v1h-2zM500 645h2v1h-2zM502 646h1v1h-1zM503 645h7v1h-7zM510 644h3v1h-3zM513 643h2v1h-2zM515 642h9v1h-9zM524 641h1v1h-1zM525 640h2v1h-2zM527 639h1v1h-1zM528 638h2v1h-2zM530 637h3v1h-3zM533 636h9v1h-9zM542 637h10v1h-10zM552 638h2v1h-2zM554 639h1v1h-1zM555 640h2v1h-2zM557 641h1v1h-1zM558 642h2v1h-2zM560 643h2v1h-2zM562 644h3v1h-3zM565 645h10v1h-10zM575 646h7v1h-7zM582 647h11v1h-11zM593 648h2v1h-2zM595 649h1v1h-1zM596 650h2v1h-2zM598 651h1v1h-1zM599 652h1v1h-1zM600 653h1v1h-1zM601 652h2v1h-2zM603 651h3v1h-3zM606 650h8v1h-8zM614 651h1v1h-1zM615 650h6v1h-6zM621 649h5v1h-5zM626 648h3v1h-3zM629 649h1v1h-1zM630 650h2v1h-2zM632 651h1v1h-1zM633 652h2v1h-2zM635 653h1v1h-1zM636 654h3v1h-3zM639 655h2v1h-2zM641 656h5v1h-5zM646 655h7v1h-7zM653 656h5v1h-5zM658 657h7v1h-7zM665 656h3v1h-3zM668 655h2v1h-2zM670 654h4v1h-4zM674 653h4v1h-4zM678 652h2v1h-2zM680 651h2v1h-2zM682 650h2v1h-2zM684 649h1v1h-1zM685 650h1v1h-1zM686 651h2v1h-2zM688 652h1v1h-1zM689 653h2v1h-2zM691 654h3v1h-3zM694 655h3v1h-3zM697 656h18v1h-18zM715 655h4v1h-4zM719 654h11v1h-11zM730 655h4v1h-4z" fill="#2fa8e2" shape-rendering="crispEdges"/><rect x="75" y="628" width="658" height="1" fill="#cbcbcb"/><rect x="75" y="634" width="658" height="1" fill="#bdbdbd"/><rect x="75" y="646" width="658" height="1" fill="#bdbdbd"/><rect x="75" y="658" width="658" height="1" fill="#bdbdbd"/><rect x="75" y="663" width="658" height="1" fill="#bdbdbd"/><text x="201" y="13.7" font-size="12.7" fill="#111" textLength="126.5" lengthAdjust="spacingAndGlyphs">MA(20,50,100,200,0,0)</text><text x="332.6" y="13.7" font-size="12.7" fill="#3f8ef5" textLength="80.5" lengthAdjust="spacingAndGlyphs">MA20:98.4409</text><text x="422.7" y="13.7" font-size="12.7" fill="#45c08c" textLength="80.9" lengthAdjust="spacingAndGlyphs">MA50:99.0992</text><text x="512.6" y="13.7" font-size="12.7" fill="#2fa8e2" textLength="87.6" lengthAdjust="spacingAndGlyphs">MA100:98.5755</text><text x="609.1" y="13.7" font-size="12.7" fill="#ff8a3c" textLength="81.1" lengthAdjust="spacingAndGlyphs">MA200:98.986</text><text x="73" y="514" font-size="12.7" fill="#111" textLength="85.7" lengthAdjust="spacingAndGlyphs">MACD(26,12,9)</text><text x="163.7" y="514" font-size="12.7" fill="#3f8ef5" textLength="69.9" lengthAdjust="spacingAndGlyphs">DIFF:-0.3373</text><text x="242.3" y="514" font-size="12.7" fill="#45c08c" textLength="69.7" lengthAdjust="spacingAndGlyphs">DEA:-0.3037</text><text x="320.5" y="514" font-size="12.7" fill="#2fa8e2" textLength="82.5" lengthAdjust="spacingAndGlyphs">MACD:-0.0672</text><text x="73" y="620" font-size="12.7" fill="#111" textLength="74.4" lengthAdjust="spacingAndGlyphs">RSI(14,14,14)</text><text x="152.4" y="620" font-size="12.7" fill="#3f8ef5" textLength="72.9" lengthAdjust="spacingAndGlyphs">RSI1:35.8119</text><text x="234.8" y="620" font-size="12.7" fill="#45c08c" textLength="73.2" lengthAdjust="spacingAndGlyphs">RSI2:35.8119</text><text x="316.2" y="620" font-size="12.7" fill="#2fa8e2" textLength="73.2" lengthAdjust="spacingAndGlyphs">RSI3:35.8119</text><text x="398.6" y="620" font-size="12.7" fill="#bcbcbc" textLength="67.4" lengthAdjust="spacingAndGlyphs">L20:20.0000</text><text x="474.8" y="620" font-size="12.7" fill="#bcbcbc" textLength="66.2" lengthAdjust="spacingAndGlyphs">L30:30.0000</text><text x="550" y="620" font-size="12.7" fill="#bcbcbc" textLength="67.5" lengthAdjust="spacingAndGlyphs">L50:50.0000</text><text x="626.8" y="620" font-size="12.7" fill="#bcbcbc" textLength="66.9" lengthAdjust="spacingAndGlyphs">L70:70.0000</text><text x="702.8" y="620" font-size="12.7" fill="#bcbcbc" textLength="60.2" lengthAdjust="spacingAndGlyphs">L80:80.000</text><text x="72.5" y="14" font-size="12.5" fill="#000" font-family="&quot;Liberation Sans&quot;, &quot;Noto Sans CJK SC&quot;, sans-serif" textLength="48.8" lengthAdjust="spacingAndGlyphs">美元指数</text><text x="117.9" y="14.3" font-size="13.3" fill="#ff7a1f" font-family="&quot;Liberation Sans&quot;, &quot;Noto Sans CJK SC&quot;, sans-serif" textLength="53.4" lengthAdjust="spacingAndGlyphs">【日线】</text><g stroke="#ff8a3a" stroke-width="0.9" fill="none"><circle cx="173.9" cy="11" r="4.3"/><path d="M169.6 11h8.6M173.9 6.7v8.6"/></g><g><rect x="186.9" y="1.6" width="10.8" height="11.6" fill="#fff" stroke="#10108a" stroke-width="1.3"/><path d="M187.5 8.2L191.3 4.2L193.6 6.6L197.2 4.4" stroke="#f0202c" stroke-width="1.2" fill="none"/><path d="M187.5 11.6L191.5 7.6L194 10L197.4 7.5" stroke="#1f4df0" stroke-width="1.2" fill="none"/></g><rect x="769.5" y="1.5" width="13" height="13" fill="#fff" stroke="#1f78d8" stroke-width="1"/><rect x="785.5" y="1.5" width="13" height="13" fill="#fff" stroke="#1f78d8" stroke-width="1"/><rect x="801.5" y="1.5" width="13" height="13" fill="#1f78d8" stroke="#1f78d8" stroke-width="1"/><rect x="817.5" y="1.5" width="13" height="13" fill="#fff" stroke="#1f78d8" stroke-width="1"/><g fill="#1f78d8" shape-rendering="crispEdges"><rect x="771" y="7" width="3" height="2"/><rect x="775" y="7" width="2" height="2"/><rect x="778" y="7" width="3" height="2"/><rect x="775" y="3" width="2" height="3"/><rect x="775" y="10" width="2" height="3"/></g><g stroke="#1f78d8" stroke-width="1" fill="none"><path d="M788.4 3.2V12.9M787.1 4.6L788.4 3L789.7 4.6M787 11.6H796.6M795.2 10.3L796.8 11.6L795.2 12.9"/></g><path d="M791.8 4.3V9.3" stroke="#1f78d8" stroke-width="1.2"/><path d="M795 4.5L792.5 6.8L795 9.1z" fill="#1f78d8"/><g stroke="#fff" stroke-width="1" fill="none"><path d="M804.4 3.2V12.9M803.1 4.6L804.4 3L805.7 4.6M803 11.6H812.6M811.2 10.3L812.8 11.6L811.2 12.9"/></g><path d="M807.6 4.3V9.5" stroke="#fff" stroke-width="1.2"/><path d="M808.4 4.3L811.8 7.1L808.4 9.9z" fill="#fff" opacity="0.9"/><rect x="820.2" y="3.5" width="2.9" height="8.8" fill="none" stroke="#1f78d8" stroke-width="1.1"/><path d="M821.8 6.8H825.6V4.9L829 7.8L825.6 10.7V8.8H821.8z" fill="#1f78d8"/><g><circle cx="10.05" cy="612.8" r="3.6" fill="#fff" stroke="#000" stroke-width="1.05"/><circle cx="10.05" cy="612.8" r="2.1" fill="#f00"/><line x1="15.05" y1="612.80" x2="17.25" y2="612.80" stroke="#f00" stroke-width="1.15"/><line x1="13.87" y1="616.62" x2="15.49" y2="618.24" stroke="#f00" stroke-width="1.15"/><line x1="10.05" y1="617.80" x2="10.05" y2="620.00" stroke="#f00" stroke-width="1.15"/><line x1="6.23" y1="616.62" x2="4.61" y2="618.24" stroke="#f00" stroke-width="1.15"/><line x1="5.05" y1="612.80" x2="2.85" y2="612.80" stroke="#f00" stroke-width="1.15"/><line x1="6.23" y1="608.98" x2="4.61" y2="607.36" stroke="#f00" stroke-width="1.15"/><line x1="10.05" y1="607.80" x2="10.05" y2="605.60" stroke="#f00" stroke-width="1.15"/><line x1="13.87" y1="608.98" x2="15.49" y2="607.36" stroke="#f00" stroke-width="1.15"/></g><rect x="1" y="664" width="70" height="1.6" fill="#c9d1dd"/><rect x="69.8" y="664" width="1.2" height="21" fill="#d5dce6"/><text x="13.6" y="679.9" font-size="13.5" font-weight="bold" fill="#ff7800" font-family="&quot;Liberation Sans&quot;, &quot;Noto Sans CJK SC&quot;, sans-serif" textLength="27.3" lengthAdjust="spacingAndGlyphs">日线</text><path d="M49.8 671.1l4.2 7.9h-8.4z" fill="#ff7800"/><rect x="131.0" y="664" width="1" height="5" fill="#c5ccd6"/><text x="133.2" y="677.4" font-size="12" font-weight="bold" fill="#1c1c28" textLength="44.3" lengthAdjust="spacingAndGlyphs">2025/09</text><rect x="285.0" y="664" width="1" height="5" fill="#c5ccd6"/><text x="287.2" y="677.4" font-size="12" font-weight="bold" fill="#1c1c28" textLength="44.3" lengthAdjust="spacingAndGlyphs">2025/10</text><rect x="446.0" y="664" width="1" height="5" fill="#c5ccd6"/><text x="448.2" y="677.4" font-size="12" font-weight="bold" fill="#1c1c28" textLength="44.3" lengthAdjust="spacingAndGlyphs">2025/11</text><rect x="586.0" y="664" width="1" height="5" fill="#c5ccd6"/><text x="588.2" y="677.4" font-size="12" font-weight="bold" fill="#1c1c28" textLength="44.3" lengthAdjust="spacingAndGlyphs">2025/12</text><rect x="0" y="683.7" width="902" height="1.3" fill="#d9dee8"/><rect x="406" y="683.7" width="496" height="1.3" fill="#cbd0d9"/><rect x="0" y="683.2" width="40.2" height="1.8" fill="#ff7a14"/><rect x="185" y="683.2" width="26.5" height="1.8" fill="#ff7a14"/><rect x="232" y="683" width="1" height="2" fill="#3f8ef5"/><defs><filter id="wb" x="-5%" y="-20%" width="110%" height="140%"><feGaussianBlur stdDeviation="0.45"/></filter></defs><text x="772.3" y="659.8" font-size="30.6" fill="#8f6f55" opacity="0.62" letter-spacing="2.15" transform="translate(1.2,1.2)" filter="url(#wb)">FX678</text><text x="772.3" y="659.8" font-size="30.6" fill="#dbe7f7" letter-spacing="2.15">FX678</text></svg></body></html>
